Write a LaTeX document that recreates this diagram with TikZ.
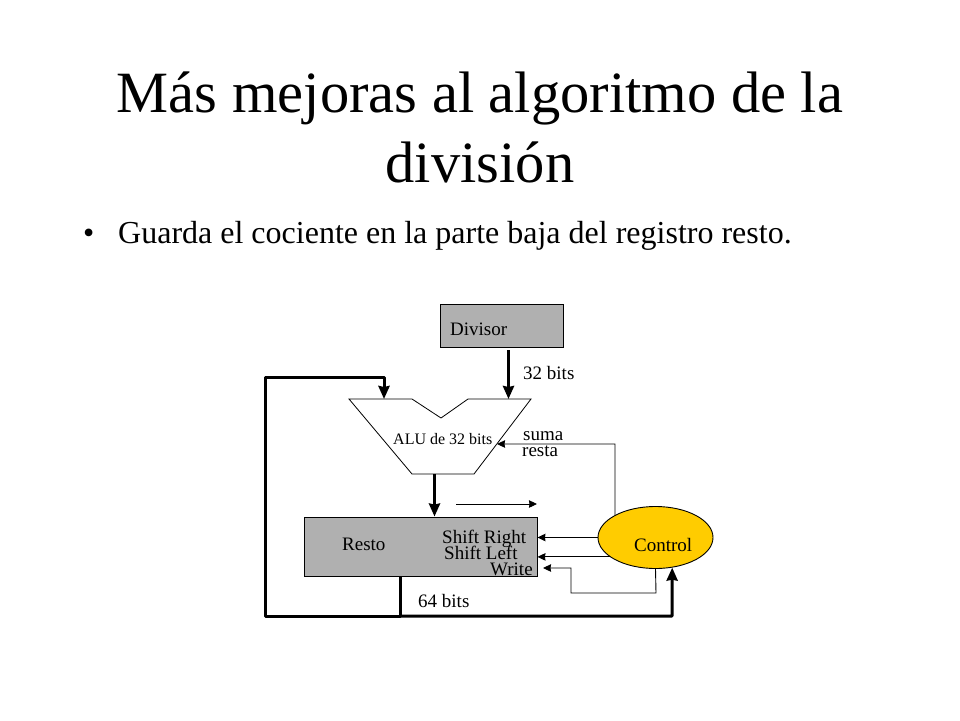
\documentclass[tikz,border=0pt]{standalone}
\usepackage{fontspec}
\setmainfont{Liberation Serif}
\usetikzlibrary{arrows.meta,shapes.geometric}
\usetikzlibrary{positioning}
\definecolor{controlfill}{RGB}{255,204,0}

\begin{document}
\begin{tikzpicture}[x=1pt,y=-1pt,
                    thick line/.style={-{Stealth[length=13pt,width=11pt,inset=1pt]},line width=3pt,line join=round},
                    thin line/.style={-{Stealth[length=8pt,width=7.5pt,inset=0.5pt]},line width=0.9pt,line join=miter},
                    gray box/.style={draw,fill=black!31,line width=0.9pt,inner sep=0pt},
                    label node/.style={inner sep=0pt,anchor=west,font=\fontsize{19}{19}\selectfont}]
\useasboundingbox (0,0) rectangle (960,720);

% heading
\node[inner sep=0pt,align=center,font=\fontsize{58.5}{70}\selectfont] (title) at (480,127) {M\'as mejoras al algoritmo de la\\divisi\'on};
\node[inner sep=0pt,anchor=west,font=\fontsize{32}{32}\selectfont] (dot) at (83,236) {•};
\node[inner sep=0pt,anchor=west,font=\fontsize{32}{32}\selectfont] (line1) at (118,236) {Guarda el cociente en la parte baja del registro resto.};

% blocks
\node[gray box,minimum width=123pt,minimum height=43pt] (divisor) at (501.5,325.5) {};
\node[gray box,minimum width=233pt,minimum height=59pt] (resto) at (420.5,546.5) {};
\node[draw,fill=controlfill,ellipse,line width=0.9pt,inner sep=0pt,minimum width=115pt,minimum height=62pt] (control) at (655.5,537.5) {};

\draw[line width=0.8pt] (349,399) -- (412,399) -- (441,418) -- (468,399) -- (531,399) -- (474,474) -- (412,474) -- cycle;
\coordinate (aluA) at (384,399);
\coordinate (aluB) at (508.5,399);
\coordinate (aluOut) at (434.5,474);
\coordinate (aluCtl) at (497,444);
\coordinate (shiftA) at (456,504);
\coordinate (shiftB) at (537,504);
\coordinate (writeIn) at (543,568);
\coordinate (restoOut) at (400,576);
\coordinate (joinA) at (400,616);

% connectors
\draw[thick line] (divisor.south -| aluB) ++(0,3) -- (aluB);
\draw[thick line] (aluOut) -- (aluOut |- resto.north);
\draw[thick line] (restoOut) -- (joinA) -- (265,616) -- (265,377) -- (384,377) -- (aluA);
\draw[thick line] (joinA) -- (672,616) -- (control.299);
\draw[thin line] (control.151.5) -- (615,444) -- (aluCtl);
\draw[thin line] (shiftA) -- (shiftB);
\draw[thin line] (control.west) -- (control.west -| resto.east);
\draw[thin line] (control.203.6) -- (control.203.6 -| resto.east);
\draw[thin line] (control.south) -- (656,593) -- (571,593) -- (571,568) -- (writeIn);

% labels
\node[label node] (divisorText) at (450,329) {Divisor};
\node[label node] (bits32) at (523,373) {32 bits};
\node[label node,font=\fontsize{16}{16}\selectfont] (aluText) at (393,439) {ALU de 32 bits};
\node[label node] (suma) at (523,436) {suma};
\node[label node] (restaText) at (522,451) {resta};
\node[label node] (restoText) at (342,544) {Resto};
\node[label node] (shiftRight) at (442,539) {Shift Right};
\node[label node] (shiftLeft) at (444,553) {Shift Left};
\node[label node] (writeText) at (490,569) {Write};
\node[label node] (controlText) at (634,545) {Control};
\node[label node] (bits64) at (418,601) {64 bits};
\end{tikzpicture}
\end{document}
